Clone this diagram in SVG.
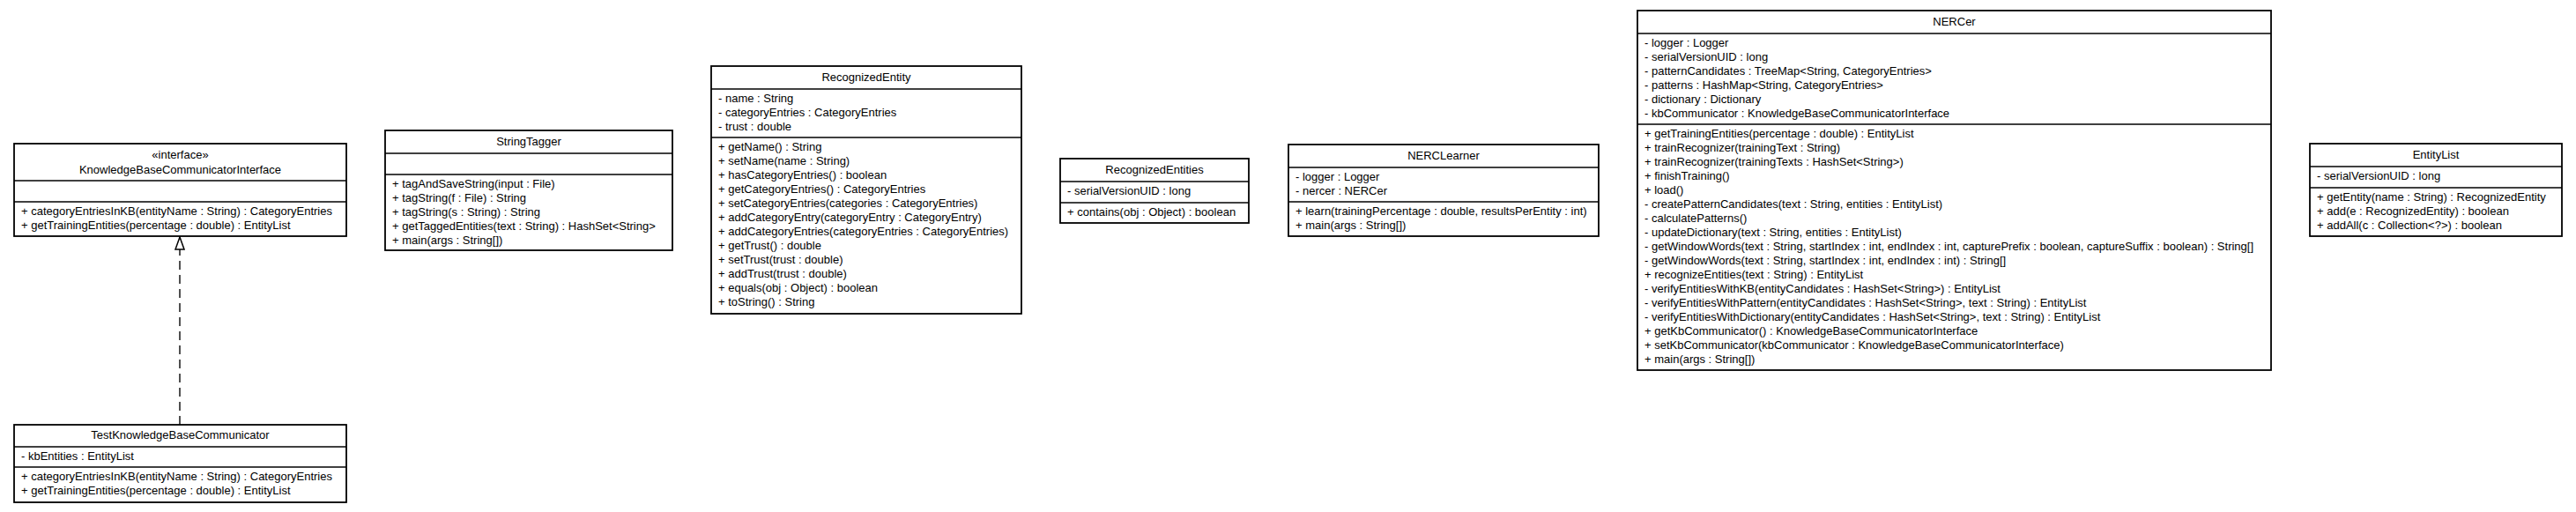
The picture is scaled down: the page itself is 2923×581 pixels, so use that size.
<svg xmlns="http://www.w3.org/2000/svg" width="2923" height="581" viewBox="0 0 2923 581">
<style>
.box{fill:#fff;stroke:#000;stroke-width:1.8}
.sep{stroke:#000;stroke-width:1.5}
text{font-family:"Liberation Sans",Arial,sans-serif;font-size:13px;fill:#000}
.c{text-anchor:middle}
.dep{stroke:#505050;stroke-width:2;stroke-dasharray:10 6;fill:none}
</style>
<defs>
<marker id="realize" viewBox="0 0 16 12" refX="15" refY="6" markerWidth="16" markerHeight="12" markerUnits="userSpaceOnUse" orient="auto">
<path d="M1,1 L15,6 L1,11 z" fill="#fff" stroke="#000" stroke-width="1.5"/>
</marker>
</defs>
<rect width="2923" height="581" fill="#fff"/>

<g id="connectors">
<line class="dep" x1="204" y1="482" x2="204" y2="269" marker-end="url(#realize)"/>
</g>

<g id="KnowledgeBaseCommunicatorInterface">
<rect class="box" x="16" y="163" width="377" height="105"/>
<line class="sep" x1="16" y1="205" x2="393" y2="205"/>
<line class="sep" x1="16" y1="229" x2="393" y2="229"/>
<text class="c" x="204.5" y="180">«interface»</text>
<text class="c" x="204.5" y="197">KnowledgeBaseCommunicatorInterface</text>
<text x="24" y="244">+ categoryEntriesInKB(entityName : String) : CategoryEntries</text>
<text x="24" y="260">+ getTrainingEntities(percentage : double) : EntityList</text>
</g>

<g id="TestKnowledgeBaseCommunicator">
<rect class="box" x="16" y="482" width="377" height="88"/>
<line class="sep" x1="16" y1="507" x2="393" y2="507"/>
<line class="sep" x1="16" y1="530" x2="393" y2="530"/>
<text class="c" x="204.5" y="498">TestKnowledgeBaseCommunicator</text>
<text x="24" y="522">- kbEntities : EntityList</text>
<text x="24" y="545">+ categoryEntriesInKB(entityName : String) : CategoryEntries</text>
<text x="24" y="561">+ getTrainingEntities(percentage : double) : EntityList</text>
</g>

<g id="StringTagger">
<rect class="box" x="437" y="148" width="326" height="136"/>
<line class="sep" x1="437" y1="174" x2="763" y2="174"/>
<line class="sep" x1="437" y1="198" x2="763" y2="198"/>
<text class="c" x="600" y="165">StringTagger</text>
<text x="445" y="213">+ tagAndSaveString(input : File)</text>
<text x="445" y="229">+ tagString(f : File) : String</text>
<text x="445" y="245">+ tagString(s : String) : String</text>
<text x="445" y="261">+ getTaggedEntities(text : String) : HashSet&lt;String&gt;</text>
<text x="445" y="277">+ main(args : String[])</text>
</g>

<g id="RecognizedEntity">
<rect class="box" x="807" y="75" width="352" height="281"/>
<line class="sep" x1="807" y1="101" x2="1159" y2="101"/>
<line class="sep" x1="807" y1="156" x2="1159" y2="156"/>
<text class="c" x="983" y="92">RecognizedEntity</text>
<text x="815" y="116">- name : String</text>
<text x="815" y="132">- categoryEntries : CategoryEntries</text>
<text x="815" y="148">- trust : double</text>
<text x="815" y="171">+ getName() : String</text>
<text x="815" y="187">+ setName(name : String)</text>
<text x="815" y="203">+ hasCategoryEntries() : boolean</text>
<text x="815" y="219">+ getCategoryEntries() : CategoryEntries</text>
<text x="815" y="235">+ setCategoryEntries(categories : CategoryEntries)</text>
<text x="815" y="251">+ addCategoryEntry(categoryEntry : CategoryEntry)</text>
<text x="815" y="267">+ addCategoryEntries(categoryEntries : CategoryEntries)</text>
<text x="815" y="283">+ getTrust() : double</text>
<text x="815" y="299">+ setTrust(trust : double)</text>
<text x="815" y="315">+ addTrust(trust : double)</text>
<text x="815" y="331">+ equals(obj : Object) : boolean</text>
<text x="815" y="347">+ toString() : String</text>
</g>

<g id="RecognizedEntities">
<rect class="box" x="1203" y="180" width="214" height="73"/>
<line class="sep" x1="1203" y1="206" x2="1417" y2="206"/>
<line class="sep" x1="1203" y1="230" x2="1417" y2="230"/>
<text class="c" x="1310" y="197">RecognizedEntities</text>
<text x="1211" y="221">- serialVersionUID : long</text>
<text x="1211" y="245">+ contains(obj : Object) : boolean</text>
</g>

<g id="NERCLearner">
<rect class="box" x="1462" y="164" width="352" height="104"/>
<line class="sep" x1="1462" y1="190" x2="1814" y2="190"/>
<line class="sep" x1="1462" y1="229" x2="1814" y2="229"/>
<text class="c" x="1638" y="181">NERCLearner</text>
<text x="1470" y="205">- logger : Logger</text>
<text x="1470" y="221">- nercer : NERCer</text>
<text x="1470" y="244">+ learn(trainingPercentage : double, resultsPerEntity : int)</text>
<text x="1470" y="260">+ main(args : String[])</text>
</g>

<g id="NERCer">
<rect class="box" x="1858" y="12" width="719" height="408"/>
<line class="sep" x1="1858" y1="38" x2="2577" y2="38"/>
<line class="sep" x1="1858" y1="141" x2="2577" y2="141"/>
<text class="c" x="2217.5" y="29">NERCer</text>
<text x="1866" y="53">- logger : Logger</text>
<text x="1866" y="69">- serialVersionUID : long</text>
<text x="1866" y="85">- patternCandidates : TreeMap&lt;String, CategoryEntries&gt;</text>
<text x="1866" y="101">- patterns : HashMap&lt;String, CategoryEntries&gt;</text>
<text x="1866" y="117">- dictionary : Dictionary</text>
<text x="1866" y="133">- kbCommunicator : KnowledgeBaseCommunicatorInterface</text>
<text x="1866" y="156">+ getTrainingEntities(percentage : double) : EntityList</text>
<text x="1866" y="172">+ trainRecognizer(trainingText : String)</text>
<text x="1866" y="188">+ trainRecognizer(trainingTexts : HashSet&lt;String&gt;)</text>
<text x="1866" y="204">+ finishTraining()</text>
<text x="1866" y="220">+ load()</text>
<text x="1866" y="236">- createPatternCandidates(text : String, entities : EntityList)</text>
<text x="1866" y="252">- calculatePatterns()</text>
<text x="1866" y="268">- updateDictionary(text : String, entities : EntityList)</text>
<text x="1866" y="284">- getWindowWords(text : String, startIndex : int, endIndex : int, capturePrefix : boolean, captureSuffix : boolean) : String[]</text>
<text x="1866" y="300">- getWindowWords(text : String, startIndex : int, endIndex : int) : String[]</text>
<text x="1866" y="316">+ recognizeEntities(text : String) : EntityList</text>
<text x="1866" y="332">- verifyEntitiesWithKB(entityCandidates : HashSet&lt;String&gt;) : EntityList</text>
<text x="1866" y="348">- verifyEntitiesWithPattern(entityCandidates : HashSet&lt;String&gt;, text : String) : EntityList</text>
<text x="1866" y="364">- verifyEntitiesWithDictionary(entityCandidates : HashSet&lt;String&gt;, text : String) : EntityList</text>
<text x="1866" y="380">+ getKbCommunicator() : KnowledgeBaseCommunicatorInterface</text>
<text x="1866" y="396">+ setKbCommunicator(kbCommunicator : KnowledgeBaseCommunicatorInterface)</text>
<text x="1866" y="412">+ main(args : String[])</text>
</g>

<g id="EntityList">
<rect class="box" x="2621" y="163" width="286" height="105"/>
<line class="sep" x1="2621" y1="189" x2="2907" y2="189"/>
<line class="sep" x1="2621" y1="213" x2="2907" y2="213"/>
<text class="c" x="2764" y="180">EntityList</text>
<text x="2629" y="204">- serialVersionUID : long</text>
<text x="2629" y="228">+ getEntity(name : String) : RecognizedEntity</text>
<text x="2629" y="244">+ add(e : RecognizedEntity) : boolean</text>
<text x="2629" y="260">+ addAll(c : Collection&lt;?&gt;) : boolean</text>
</g>
</svg>
